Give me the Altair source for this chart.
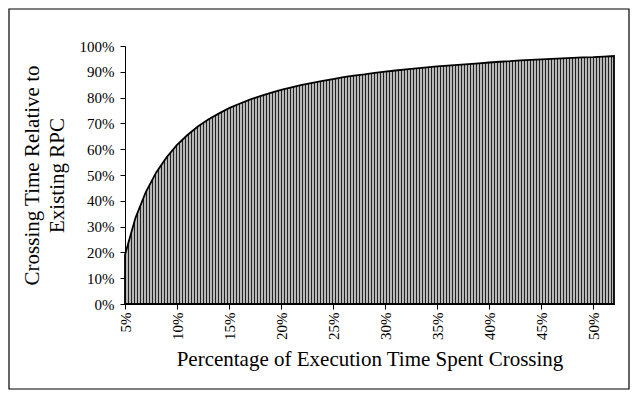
import altair as alt
import pandas as pd

# Percentage of execution time spent crossing (x, in %)
pct_exec = list(range(5, 53))
# Crossing time relative to existing RPC (y, fraction)
rel_time = [0.191, 0.333, 0.434, 0.510, 0.569, 0.617, 0.655, 0.688, 0.715, 0.738,
            0.759, 0.776, 0.792, 0.806, 0.818, 0.830, 0.840, 0.849, 0.857, 0.865,
            0.872, 0.879, 0.885, 0.890, 0.896, 0.901, 0.905, 0.909, 0.913, 0.917,
            0.921, 0.924, 0.927, 0.930, 0.933, 0.936, 0.939, 0.941, 0.944, 0.946,
            0.948, 0.950, 0.952, 0.954, 0.956, 0.957, 0.959, 0.961]
x_ticks = [5, 10, 15, 20, 25, 30, 35, 40, 45, 50]
y_ticks = [0, 0.1, 0.2, 0.3, 0.4, 0.5, 0.6, 0.7, 0.8, 0.9, 1.0]

df = pd.DataFrame({"x": pct_exec, "y": rel_time})

FONT = "Liberation Serif"
W, H = 489, 258
PL, PT, PR, PB = 117, 38, 16, 86

# striped gray fill via a hard-stop horizontal gradient (3px period)
n = W // 3
stops = []
for i in range(n):
    a = i / n
    m = (i + 1 / 3) / n
    b = (i + 1) / n
    stops += [alt.GradientStop(offset=a, color="#222222"),
              alt.GradientStop(offset=m, color="#222222"),
              alt.GradientStop(offset=m, color="#b8b8b8"),
              alt.GradientStop(offset=b, color="#b8b8b8")]
grad = alt.Gradient(gradient="linear", stops=stops, x1=0, x2=1, y1=0, y2=0)

xscale = alt.Scale(domain=[5, 52], nice=False, zero=False)
yscale = alt.Scale(domain=[0, 1], nice=False)

area = alt.Chart(df).mark_area(fill=grad, stroke="black", strokeWidth=1.8).encode(
    x=alt.X("x:Q", scale=xscale,
            axis=alt.Axis(values=x_ticks, labelExpr="datum.value + '%'", labelAngle=-90,
                          title="Percentage of Execution Time Spent Crossing",
                          grid=False, tickSize=5, labelPadding=3, titlePadding=9,
                          domainColor="black", tickColor="black", labelColor="black",
                          labelFont=FONT, labelFontSize=15, titleFont=FONT,
                          titleFontSize=21, titleFontWeight="normal", titleColor="black")),
    y=alt.Y("y:Q", scale=yscale,
            axis=alt.Axis(values=y_ticks, format=".0%",
                          title=["Crossing Time Relative to", "Existing RPC"],
                          grid=False, tickSize=5, labelPadding=6, titlePadding=12,
                          domainColor="black", tickColor="black", labelColor="black",
                          labelFont=FONT, labelFontSize=15, titleFont=FONT,
                          titleFontSize=21, titleFontWeight="normal", titleColor="black",
                          titleLineHeight=25)),
)

border = alt.Chart(pd.DataFrame({"k": [0]})).mark_rect(
    fill=None, stroke="black", strokeWidth=1.2).encode(
    x=alt.value(-PL + 1), x2=alt.value(W + PR - 1),
    y=alt.value(-PT + 1), y2=alt.value(H + PB - 1),
)

chart = alt.layer(area, border).properties(
    width=W, height=H,
    autosize=alt.AutoSizeParams(type="none"),
    padding={"left": PL, "top": PT, "right": PR, "bottom": PB},
    background="white",
).configure_view(stroke=None)

chart.save("out.html", embed_options={"renderer": "svg", "actions": False})
